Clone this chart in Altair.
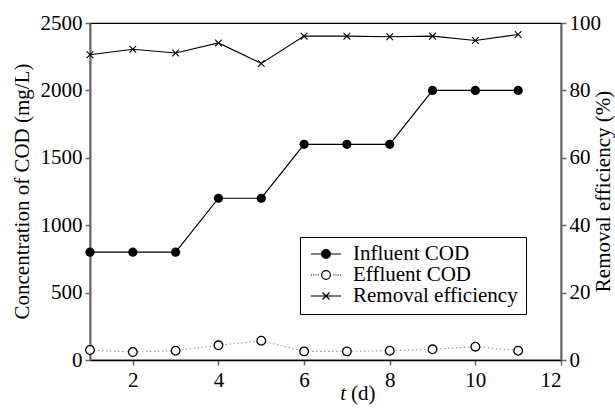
import altair as alt
import pandas as pd

# ---- data ----
days = [1, 2, 3, 4, 5, 6, 7, 8, 9, 10, 11]
influent = [800, 800, 800, 1200, 1200, 1600, 1600, 1600, 2000, 2000, 2000]
effluent = [74, 59, 69, 109, 143, 64, 64, 69, 79, 99, 69]
removal = [90.6, 92.2, 91.1, 94.1, 88.0, 96.1, 96.1, 95.9, 96.1, 94.8, 96.6]

series_names = ["Influent COD", "Effluent COD", "Removal efficiency"]
x_ticks = [2, 4, 6, 8, 10, 12]
left_ticks = [0, 500, 1000, 1500, 2000, 2500]
right_ticks = [0, 20, 40, 60, 80, 100]

df = pd.DataFrame({"day": days, "influent": influent,
                   "effluent": effluent, "removal": removal})
legend_df = pd.DataFrame({"series": series_names})
one_row = pd.DataFrame({"a": [0]})

FONT = "Liberation Serif"
FS = 21
AXIS_GRAY = "#666666"

X_PATH = "M-1,-1L1,1M-1,1L1,-1"


def ring(cx, r):
    return (f"M{cx - r:.3f},0A{r},{r} 0 1,1 {cx + r:.3f},0"
            f"A{r},{r} 0 1,1 {cx - r:.3f},0")


# legend symbol paths (line + marker), spanning x units -1..3, marker at 1
dots = "".join(f"M{a:.2f},0H{a + 0.14:.2f}" for a in [-1.0, -0.7, -0.4, -0.1])
dots += "".join(f"M{a:.2f},0H{a + 0.14:.2f}" for a in [1.96, 2.26, 2.56, 2.86])
legend_paths = [
    "M-1,0H3" + ring(1, 0.58) + ring(1, 0.43) + ring(1, 0.28) + ring(1, 0.13)
    + "M0.97,0H1.03",
    dots + ring(1, 0.58),
    "M-1,0H3M0.53,-0.47L1.47,0.47M0.53,0.47L1.47,-0.47",
]


def axis(**kw):
    return alt.Axis(labelFont=FONT, labelFontSize=FS, labelColor="black",
                    titleFont=FONT, titleFontSize=FS, titleFontWeight="normal",
                    titleColor="black", grid=False, format="d", **kw)


x_enc = alt.X(
    "day:Q",
    scale=alt.Scale(domain=[1, 12], nice=False, zero=False),
    axis=axis(values=x_ticks, title=None, domainColor="black",
              domainWidth=1.5, tickColor=AXIS_GRAY, tickWidth=1.5,
              tickSize=5, labelPadding=4),
)

left_axis = axis(
    orient="left", values=left_ticks, title="Concentration of COD (mg/L)",
    domainColor=AXIS_GRAY, domainWidth=2, tickColor=AXIS_GRAY, tickWidth=1.5,
    tickSize=5, labelPadding=3,
    titleAngle=270, titleX=-68, titleY=168, titleAlign="center",
    titleBaseline="middle",
)
right_axis = axis(
    orient="right", values=right_ticks, title="Removal efficiency (%)",
    domainColor=AXIS_GRAY, domainWidth=2, tickColor=AXIS_GRAY, tickWidth=1.5,
    tickSize=5, labelPadding=3,
    titleAngle=270, titleX=42, titleY=168, titleAlign="center",
    titleBaseline="middle",
)
left_scale = alt.Scale(domain=[0, 2500], nice=False)
right_scale = alt.Scale(domain=[0, 100], nice=False)

base = alt.Chart(df)

inf_line = base.mark_line(color="black", strokeWidth=1.2).encode(
    x=x_enc, y=alt.Y("influent:Q", scale=left_scale, axis=left_axis))
inf_pts = base.mark_point(shape="circle", filled=True, color="black",
                          size=85, opacity=1).encode(
    x=x_enc, y=alt.Y("influent:Q", scale=left_scale, axis=left_axis))
eff_line = base.mark_line(color="#999999", strokeWidth=1.1,
                          strokeDash=[1.5, 2.5]).encode(
    x=x_enc, y=alt.Y("effluent:Q", scale=left_scale, axis=left_axis))
eff_pts = base.mark_point(shape="circle", fill="white", stroke="black",
                          strokeWidth=1.3, size=75, opacity=1).encode(
    x=x_enc, y=alt.Y("effluent:Q", scale=left_scale, axis=left_axis))

leg = alt.Legend(title=None, orient="none", legendX=210, legendY=214,
                 strokeColor="black", fillColor="white", padding=8,
                 labelFont=FONT, labelFontSize=FS, labelColor="black",
                 labelLimit=400, clipHeight=18,
                 symbolSize=225, symbolStrokeWidth=1.2,
                 symbolStrokeColor="black", symbolFillColor="white",
                 symbolOpacity=1,
                 rowPadding=0, labelOffset=24, cornerRadius=0)
legend_layer = alt.Chart(legend_df).mark_point(
    opacity=1, filled=False, stroke="black", strokeWidth=1.2
).encode(
    shape=alt.Shape("series:N", scale=alt.Scale(domain=series_names,
                                                range=legend_paths), legend=leg),
).transform_filter("false")

t_text = alt.Chart(one_row).mark_text(
    text="t", font=FONT, fontSize=FS, fontStyle="italic", align="right",
    baseline="alphabetic", color="black").encode(
    x=alt.value(256), y=alt.value(377))
d_text = alt.Chart(one_row).mark_text(
    text="(d)", font=FONT, fontSize=FS, align="left",
    baseline="alphabetic", color="black").encode(
    x=alt.value(261), y=alt.value(377))

left = alt.layer(inf_line, eff_line, eff_pts, inf_pts, legend_layer,
                 t_text, d_text)

rem_line = base.mark_line(color="black", strokeWidth=1.1).encode(
    x=x_enc, y=alt.Y("removal:Q", scale=right_scale, axis=right_axis))
rem_pts = base.mark_point(shape=X_PATH, size=45, filled=False,
                          stroke="black", strokeWidth=1.1, opacity=1).encode(
    x=x_enc, y=alt.Y("removal:Q", scale=right_scale, axis=right_axis))
right = alt.layer(rem_line, rem_pts)

chart = alt.layer(left, right).resolve_scale(y="independent").properties(
    width=471, height=337,
    autosize=alt.AutoSizeParams(type="none"),
    padding={"left": 90, "top": 23, "right": 54, "bottom": 50},
).configure(font=FONT).configure_view(
    stroke="black", strokeWidth=1.2
).configure_axis(
    labelFont=FONT, titleFont=FONT, labelFontSize=FS, titleFontSize=FS,
)

chart.save("out.html", embed_options={"renderer": "svg", "actions": False})
